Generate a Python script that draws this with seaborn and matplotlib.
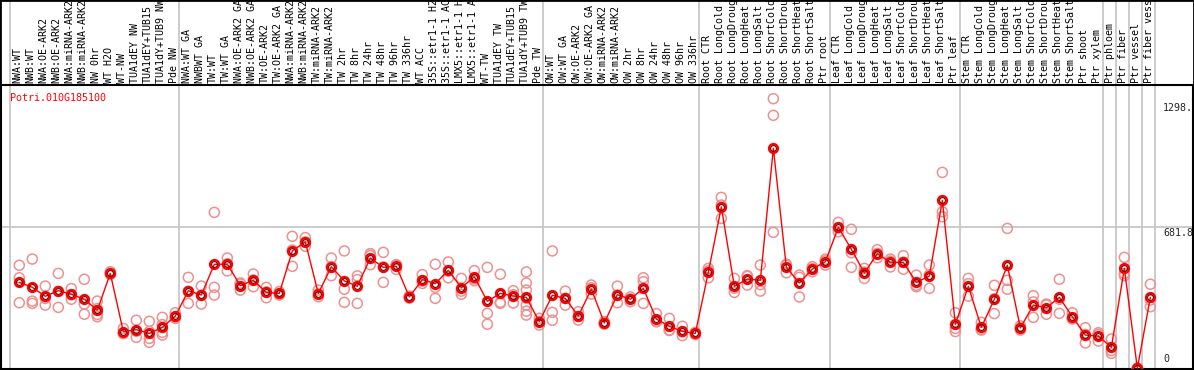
import numpy as np
import pandas as pd
import seaborn as sns
import matplotlib.pyplot as plt
import matplotlib.transforms as mtransforms
from matplotlib.patches import Rectangle

# sample labels, in plotting order
labels = [
    "NWA:WT", "NWB:WT", "NWA:OE-ARK2", "NWB:OE-ARK2", "NWA:miRNA-ARK2", "NWB:miRNA-ARK2",
    "NW 0hr", "WT H2O", "WT-NW", "TUA1dEY NW", "TUA1dEY+TUB15", "TUA1dY+TUB9 NW", "Pde NW",
    "NWA:WT GA", "NWBWT GA", "TW:WT", "TW:WT GA", "NWA:OE-ARK2 GA", "NWB:OE-ARK2 GA",
    "TW:OE-ARK2", "TW:OE-ARK2 GA", "NWA:miRNA-ARK2", "NWB:miRNA-ARK2", "TW:miRNA-ARK2",
    "TW:miRNA-ARK2", "TW 2hr", "TW 8hr", "TW 24hr", "TW 48hr", "TW 96hr", "TW 336hr",
    "WT ACC", "35S::etr1-1 H2O", "35S::etr1-1 ACC", "LMX5::etr1-1 H2O", "LMX5::etr1-1 ACC",
    "WT-TW", "TUA1dEY TW", "TUA1dEY+TUB15", "TUA1dY+TUB9 TW", "Pde TW",
    "OW:WT", "OW:WT GA", "OW:OE-ARK2", "OW:OE-ARK2 GA", "OW:miRNA-ARK2", "OW:miRNA-ARK2",
    "OW 2hr", "OW 8hr", "OW 24hr", "OW 48hr", "OW 96hr", "OW 336hr",
    "Root CTR", "Root LongCold", "Root LongDrought", "Root LongHeat", "Root LongSalt",
    "Root ShortCold", "Root ShortDrought", "Root ShortHeat", "Root ShortSalt", "Ptr root",
    "Leaf CTR", "Leaf LongCold", "Leaf LongDrought", "Leaf LongHeat", "Leaf LongSalt",
    "Leaf ShortCold", "Leaf ShortDrought", "Leaf ShortHeat", "Leaf ShortSalt", "Ptr leaf",
    "Stem CTR", "Stem LongCold", "Stem LongDrought", "Stem LongHeat", "Stem LongSalt",
    "Stem ShortCold", "Stem ShortDrought", "Stem ShortHeat", "Stem ShortSalt", "Ptr shoot",
    "Ptr xylem", "Ptr phloem", "Ptr fiber", "Ptr vessel", "Ptr fiber vessel",
]

# mean expression per sample
means = [
    416, 392, 349, 376, 359, 335, 282, 459, 179, 189, 171, 200, 254,
    376, 355, 503, 503, 400, 426, 368, 363, 567, 610, 362, 491, 423, 397, 533,
    488, 493, 346, 429, 410, 474, 390, 443, 325, 363, 350, 344, 227,
    354, 339, 254, 384, 221, 357, 335, 387, 240, 205, 181, 171,
    464, 778, 397, 432, 426, 1060, 488, 413, 480, 515,
    680, 575, 461, 554, 512, 512, 416, 446, 810, 215,
    397, 200, 335, 498, 197, 307, 294, 344, 251, 163,
    158, 104, 483, 3, 344,
]

# replicate values per sample
reps = [
    (498, 438, 318), (528, 326, 315), (398, 339, 307), (459, 373, 296), (386, 335, 356),
    (431, 312, 263), (326, 251, 262, 290), (467, 455, 456), (195, 172, 170), (234, 152, 181),
    (229, 147, 128, 180), (248, 176, 163, 213), (270, 243, 250),
    (440, 315, 373), (398, 312, 355), (752, 392, 355), (533, 471, 505), (413, 379, 408),
    (456, 395, 427), (392, 342, 370), (372, 355, 362), (637, 493, 571), (631, 589, 610),
    (379, 347, 360), (533, 448, 492), (567, 383, 320), (447, 429, 315), (554, 501, 545),
    (560, 416, 490), (501, 478, 500), (346, 340, 350), (453, 411, 423), (503, 392, 339),
    (514, 438, 470), (435, 374, 359), (472, 424, 433), (488, 267, 215), (455, 315, 320),
    (376, 317, 357), (466, 413, 379, 340, 307, 278, 259), (243, 211, 227),
    (567, 272, 234), (374, 307, 339), (275, 235, 252), (403, 360, 390), (221, 215, 227),
    (398, 318, 355), (346, 323, 336), (438, 419, 315), (266, 227, 228), (243, 187, 185),
    (205, 160, 178), (176, 165, 172),
    (483, 438, 471), (824, 723, 787), (435, 368, 388), (448, 403, 445), (499, 374, 405),
    (1298, 1218, 656), (503, 462, 499), (451, 440, 346), (491, 467, 482), (527, 499, 519),
    (704, 659, 678), (671, 558, 488), (483, 435, 465), (573, 534, 555), (528, 490, 518),
    (544, 479, 513), (451, 395, 402), (499, 387, 452), (944, 755, 731), (270, 195, 180),
    (435, 410, 350), (224, 187, 190), (402, 266, 337), (675, 426, 383), (207, 187, 197),
    (352, 248, 322), (312, 263, 307), (431, 267, 335), (270, 243, 240), (198, 125, 166),
    (174, 134, 166), (144, 88, 75), (536, 459, 448), (0, 2, 5), (407, 331, 299),
]

# index of first sample in each block (gray separators)
group_starts = [0, 13, 41, 53, 63, 73, 84, 85, 86, 87, 88]

gene = "Potri.010G185100"
y_max = 1363.6
y_ticks = [(1298, "1298."), (681.8, "681.8")]

# long tables for seaborn
mean_df = pd.DataFrame({"x": np.arange(len(means)), "value": means})
rep_rows = [(i, v) for i, vals in enumerate(reps) for v in vals]
rep_df = pd.DataFrame(rep_rows, columns=["x", "value"])

sns.set_style("white")
plt.rcParams["font.family"] = ["DejaVu Sans Mono"]

fig = plt.figure(figsize=(11.94, 3.70), dpi=100)
ax = fig.add_axes([1 / 1194, 1 / 370, 1192 / 1194, 284 / 370])

sns.scatterplot(data=rep_df, x="x", y="value", ax=ax, marker="o", s=52,
                facecolors="none", edgecolor="#ee9090", linewidth=1.1, zorder=3)
sns.lineplot(data=mean_df, x="x", y="value", ax=ax, color="red", linewidth=1,
             marker="o", markersize=6.5, markerfacecolor="none",
             markeredgecolor="red", markeredgewidth=1.6, zorder=4)
ax.plot(mean_df["x"], mean_df["value"], "o", ms=4.2, mfc="none", mec="#600000",
        mew=0.8, zorder=5)

ax.set_xlim(-1.408, 90.28)
ax.set_ylim(0, y_max)
ax.set_xticks([])
ax.set_yticks([])
ax.set_xlabel("")
ax.set_ylabel("")
for s in ax.spines.values():
    s.set_color("black")
    s.set_linewidth(1.5)

ax.axhline(y_max / 2, color="#c4c4c4", lw=1.2, zorder=1)

trans = mtransforms.blended_transform_factory(ax.transData, ax.transAxes)
for g in group_starts:
    ax.plot([g - 0.68, g - 0.68], [0, 1.31], transform=trans, color="#c4c4c4",
            lw=1.2, clip_on=False, zorder=1)

for i, lab in enumerate(labels):
    ax.text(i - 0.12, 1.007, lab, transform=trans, rotation=90, ha="center",
            va="bottom", fontsize=7.2, color="black", clip_on=False)

ax.text(0.0076, 0.972, gene, transform=ax.transAxes, ha="left", va="top",
        fontsize=7.2, color="red")

for val, txt in y_ticks:
    off = -4 if val > 1000 else -0.5
    ax.annotate(txt, xy=(87.98, val), xycoords="data", xytext=(0, off),
                textcoords="offset pixels", ha="left", va="top", fontsize=7.2,
                annotation_clip=False)
ax.text(87.98, 0.017, "0", transform=trans, ha="left", va="bottom", fontsize=7.2)

fig.patches.append(Rectangle((0, 0), 1, 1, transform=fig.transFigure, fill=False,
                             edgecolor="black", lw=2))

fig.savefig("out.png", dpi=100)
